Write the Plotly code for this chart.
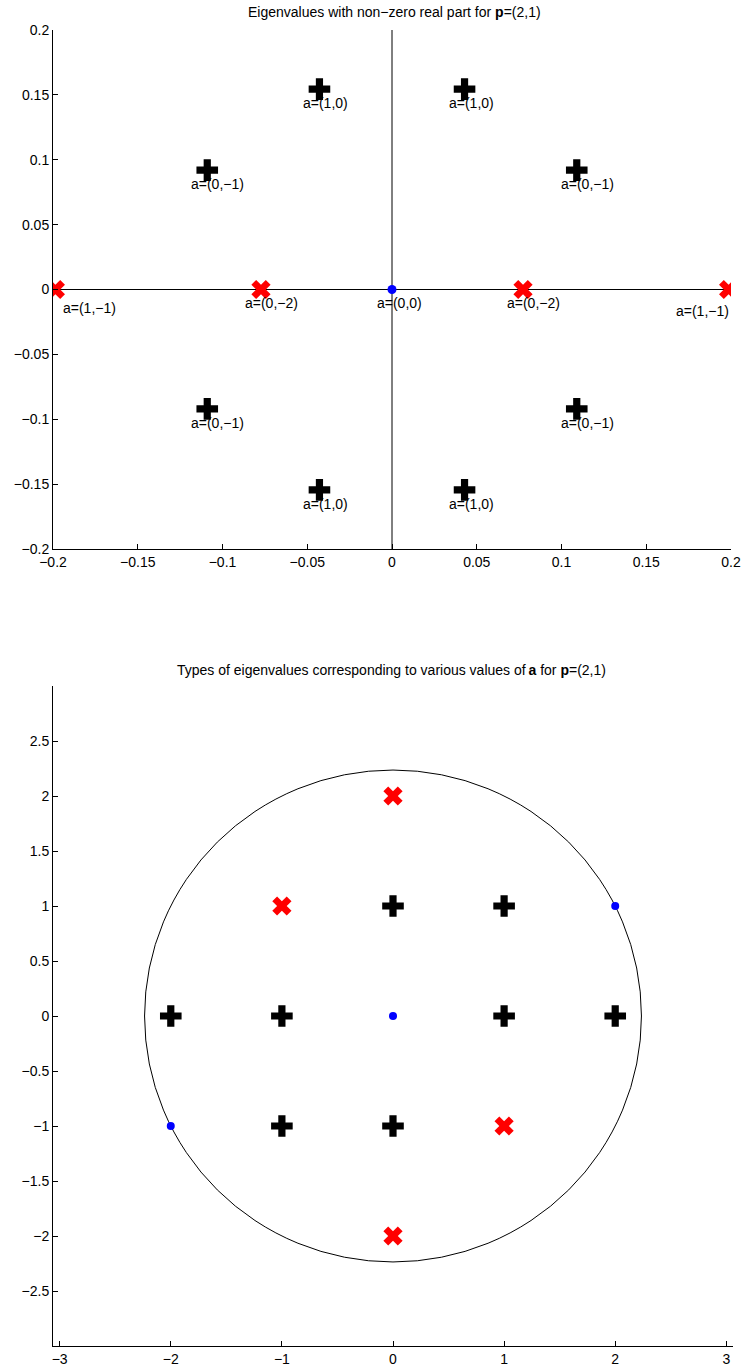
import plotly.graph_objects as go

# ---------------- Top chart data ----------------
plus_x = [-0.0428, 0.0428, -0.109, 0.109, -0.109, 0.109, -0.0428, 0.0428]
plus_y = [0.1544, 0.1544, 0.092, 0.092, -0.092, -0.092, -0.1544, -0.1544]
plus_lbl = ["a=(1,0)", "a=(1,0)", "a=(0,−1)", "a=(0,−1)",
            "a=(0,−1)", "a=(0,−1)", "a=(1,0)", "a=(1,0)"]

red_x = [-0.1986, -0.0773, 0.0773, 0.1986]
red_y = [0.0, 0.0, 0.0, 0.0]
red_lbl = ["a=(1,−1)", "a=(0,−2)", "a=(0,−2)", "a=(1,−1)"]

blue_x = [0.0]
blue_y = [0.0]
blue_lbl = ["a=(0,0)"]

top_ticks = [-0.2, -0.15, -0.1, -0.05, 0, 0.05, 0.1, 0.15, 0.2]
top_ticktext = ["−0.2", "−0.15", "−0.1", "−0.05", "0", "0.05", "0.1", "0.15", "0.2"]

# ---------------- Bottom chart data ----------------
b_plus_x = [0, 1, -2, -1, 1, 2, -1, 0]
b_plus_y = [1, 1, 0, 0, 0, 0, -1, -1]
b_red_x = [0, -1, 1, 0]
b_red_y = [2, 1, -1, -2]
b_blue_x = [2, 0, -2]
b_blue_y = [1, 0, -1]
circle_r = 2.236  # sqrt(5)

bx_ticks = [-3, -2, -1, 0, 1, 2, 3]
bx_ticktext = ["−3", "−2", "−1", "0", "1", "2", "3"]
by_ticks = [-2.5, -2, -1.5, -1, -0.5, 0, 0.5, 1, 1.5, 2, 2.5]
by_ticktext = ["−2.5", "−2", "−1.5", "−1", "−0.5", "0", "0.5", "1", "1.5", "2", "2.5"]

FONT = "Liberation Sans, Arial, Helvetica, sans-serif"
W, H = 743, 1370
TXT = 14

fig = go.Figure()

# top axes lines through origin
fig.add_trace(go.Scatter(x=[0, 0], y=[-0.2, 0.2], mode="lines",
                         line=dict(color="black", width=1), xaxis="x", yaxis="y",
                         hoverinfo="skip"))
fig.add_trace(go.Scatter(x=[-0.2, 0.2], y=[0, 0], mode="lines",
                         line=dict(color="black", width=1), xaxis="x", yaxis="y",
                         hoverinfo="skip"))

PLUS = dict(symbol="cross", size=18, color="black", line=dict(width=0))
XM = dict(symbol="x", size=17, color="red", line=dict(width=0))
DOT = dict(symbol="circle", size=9, color="blue", line=dict(width=0))

fig.add_trace(go.Scatter(x=plus_x, y=plus_y, mode="markers", marker=PLUS, xaxis="x", yaxis="y"))
fig.add_trace(go.Scatter(x=red_x, y=red_y, mode="markers", marker=XM, xaxis="x", yaxis="y"))
fig.add_trace(go.Scatter(x=blue_x, y=blue_y, mode="markers", marker=DOT, xaxis="x", yaxis="y"))

fig.add_trace(go.Scatter(x=b_plus_x, y=b_plus_y, mode="markers", marker=PLUS, xaxis="x2", yaxis="y2"))
fig.add_trace(go.Scatter(x=b_red_x, y=b_red_y, mode="markers", marker=XM, xaxis="x2", yaxis="y2"))
fig.add_trace(go.Scatter(x=b_blue_x, y=b_blue_y, mode="markers",
                         marker=dict(symbol="circle", size=8, color="blue", line=dict(width=0)),
                         xaxis="x2", yaxis="y2"))

annotations = []
def lab(x, y, t, dx, dy):
    annotations.append(dict(x=x, y=y, xref="x", yref="y", text=t, showarrow=False,
                            xanchor="left", yanchor="middle", xshift=dx, yshift=dy,
                            font=dict(family=FONT, size=TXT, color="black")))

for x, y, t in zip(plus_x, plus_y, plus_lbl):
    lab(x, y, t, -18, -14)
for i, (x, y, t) in enumerate(zip(red_x, red_y, red_lbl)):
    if i == 0:
        lab(x, y, t, 6, -19)
    elif i == 3:
        lab(x, y, t, -55, -22)
    else:
        lab(x, y, t, -18, -14)
for x, y, t in zip(blue_x, blue_y, blue_lbl):
    lab(x, y, t, -17, -14)

# titles
annotations.append(dict(x=394 / W, y=1 - 12 / H, xref="paper", yref="paper", showarrow=False,
                        text="Eigenvalues with non−zero real part for <b>p</b>=(2,1)",
                        xanchor="center", yanchor="middle",
                        font=dict(family=FONT, size=TXT, color="black")))
annotations.append(dict(x=391.5 / W, y=1 - 670 / H, xref="paper", yref="paper", showarrow=False,
                        text="Types of eigenvalues corresponding to various values of\u2009<b>a</b> for <b>p</b>=(2,1)",
                        xanchor="center", yanchor="middle",
                        font=dict(family=FONT, size=TXT, color="black")))

axis_common = dict(showgrid=False, zeroline=False, showline=True, linecolor="black",
                   linewidth=1, mirror=False, ticks="inside", ticklen=5, tickcolor="black",
                   automargin=False,
                   tickfont=dict(family=FONT, size=TXT, color="black"))

fig.update_layout(
    template="none",
    width=W, height=H, margin=dict(l=0, r=0, t=0, b=0, pad=0), autosize=False,
    paper_bgcolor="white", plot_bgcolor="white", showlegend=False,
    annotations=annotations,
    xaxis=dict(domain=[53 / W, 731 / W], range=[-0.2, 0.2], anchor="y",
               tickvals=top_ticks, ticktext=top_ticktext, **axis_common),
    yaxis=dict(domain=[1 - 549 / H, 1 - 30 / H], range=[-0.2, 0.2], anchor="x",
               tickvals=top_ticks, ticktext=top_ticktext, **axis_common),
    xaxis2=dict(domain=[53 / W, 733 / W], range=[-3.06, 3.06], anchor="y2",
                tickvals=bx_ticks, ticktext=bx_ticktext, **axis_common),
    yaxis2=dict(domain=[1 - 1346 / H, 1 - 686 / H], range=[-3.0, 3.0], anchor="x2",
                tickvals=by_ticks, ticktext=by_ticktext, **axis_common),
    shapes=[dict(type="circle", xref="x2", yref="y2",
                 x0=-circle_r, y0=-circle_r, x1=circle_r, y1=circle_r,
                 line=dict(color="black", width=1), layer="below")],
)

fig.write_html("out.html")
